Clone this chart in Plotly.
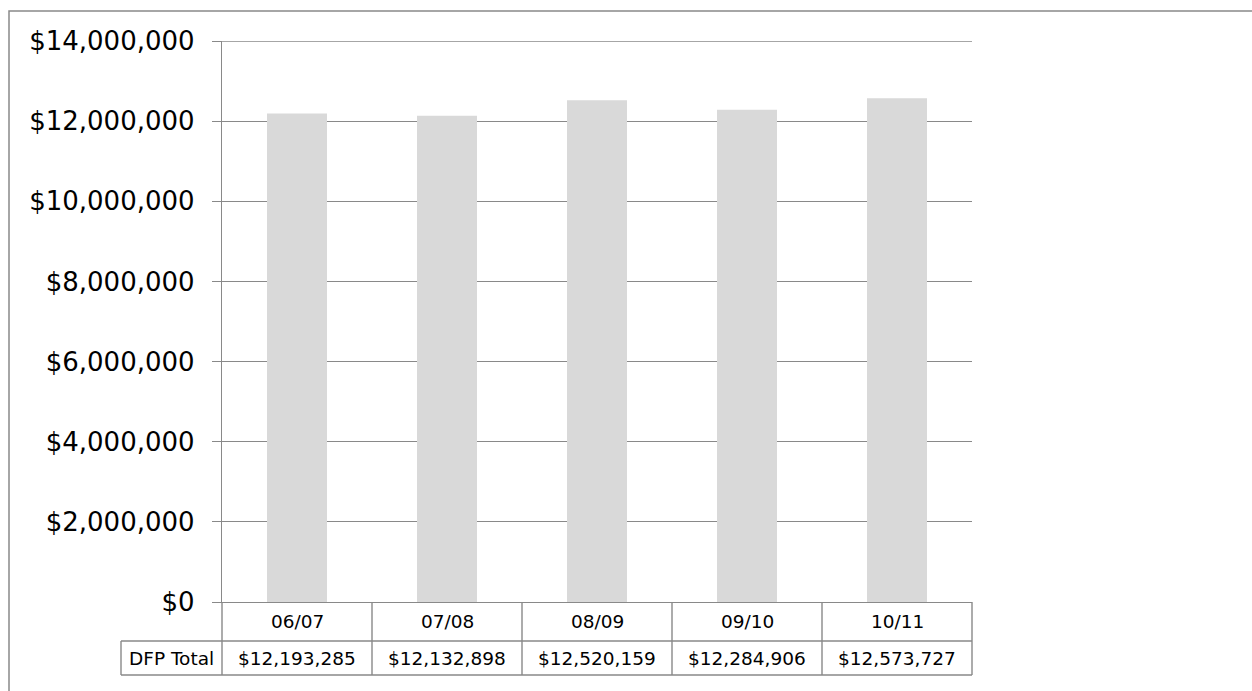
import plotly.graph_objects as go

# Fiscal-year seasons and the DFP total for each
seasons = ["06/07", "07/08", "08/09", "09/10", "10/11"]
dfp_total = [12193285, 12132898, 12520159, 12284906, 12573727]
series_name = "DFP Total"

# Y-axis range and step
y_max = 14_000_000
y_step = 2_000_000

W, H = 1252, 691
M_L, M_R, M_T, M_B = 222, 280, 41, 89
plot_w = W - M_L - M_R
plot_h = H - M_T - M_B

FONT = "DejaVu Sans, Verdana, sans-serif"
LINE = "#898989"


def px_to_paper_y(py):
    """Pixel row (from top of the page) to paper y."""
    return (H - M_B - py) / plot_h


def px_to_paper_x(px):
    """Pixel column to paper x."""
    return (px - M_L) / plot_w


n = len(seasons)


def cat_to_paper_x(c):
    """Category-axis coordinate to paper x."""
    return (c + 0.5) / n


fig = go.Figure()
fig.add_trace(go.Bar(
    x=list(range(n)),
    y=dfp_total,
    width=0.4,
    marker=dict(color="#d9d9d9", line=dict(width=0)),
    name=series_name,
    showlegend=False,
    hoverinfo="skip",
))

# Data table beneath the plot
row1_bot = px_to_paper_y(641)
row2_bot = px_to_paper_y(675)
label_left = px_to_paper_x(121)

shapes = []
line_style = dict(color=LINE, width=1.4)
# top gridline at the axis maximum
shapes.append(dict(type="line", xref="paper", yref="y", x0=0, x1=1,
                   y0=y_max, y1=y_max, line=line_style))
# vertical dividers through both rows
for i in range(n + 1):
    xv = cat_to_paper_x(i - 0.5)
    shapes.append(dict(type="line", xref="paper", yref="paper", x0=xv, x1=xv,
                       y0=0, y1=row2_bot, line=line_style))
# horizontal rules
for yb in (row1_bot, row2_bot):
    shapes.append(dict(type="line", xref="paper", yref="paper", x0=label_left, x1=1,
                       y0=yb, y1=yb, line=line_style))
shapes.append(dict(type="line", xref="paper", yref="paper", x0=label_left, x1=label_left,
                   y0=row1_bot, y1=row2_bot, line=line_style))
# outer chart frame
shapes.append(dict(type="rect", xref="paper", yref="paper",
                   x0=px_to_paper_x(9), x1=px_to_paper_x(W + 20),
                   y0=px_to_paper_y(H + 20), y1=px_to_paper_y(11),
                   line=dict(color=LINE, width=1.5), fillcolor="rgba(0,0,0,0)"))

annotations = []
hdr_y = px_to_paper_y(621)
val_y = px_to_paper_y(658)
cell_font = dict(family=FONT, size=18.5, color="#000000")
for i, (s, v) in enumerate(zip(seasons, dfp_total)):
    xc = cat_to_paper_x(i)
    annotations.append(dict(x=xc, y=hdr_y, xref="paper", yref="paper", text=s,
                            showarrow=False, font=cell_font,
                            xanchor="center", yanchor="middle"))
    annotations.append(dict(x=xc, y=val_y, xref="paper", yref="paper", text=f"${v:,.0f}",
                            showarrow=False, font=cell_font,
                            xanchor="center", yanchor="middle"))
annotations.append(dict(x=(label_left + 0) / 2, y=val_y, xref="paper", yref="paper",
                        text=series_name, showarrow=False, font=cell_font,
                        xanchor="center", yanchor="middle"))

fig.update_layout(
    width=W, height=H,
    margin=dict(l=M_L, r=M_R, t=M_T, b=M_B, pad=0),
    paper_bgcolor="white", plot_bgcolor="white",
    font=dict(family=FONT, color="#000000"),
    shapes=shapes,
    annotations=annotations,
    showlegend=False,
)
fig.update_xaxes(
    range=[-0.5, n - 0.5],
    showticklabels=False, ticks="", showgrid=False, zeroline=False,
    showline=True, linecolor=LINE, linewidth=1.4,
)
fig.update_yaxes(
    range=[0, y_max], dtick=y_step, tick0=0,
    tickformat="$,.0f",
    tickfont=dict(family=FONT, size=26, color="#000000"),
    ticks="outside", ticklen=9, tickwidth=1.4, tickcolor=LINE,
    ticklabelstandoff=12,
    showgrid=True, gridcolor=LINE, gridwidth=1.4,
    showline=True, linecolor=LINE, linewidth=1.4,
    zeroline=False,
)

fig.write_html("out.html")
